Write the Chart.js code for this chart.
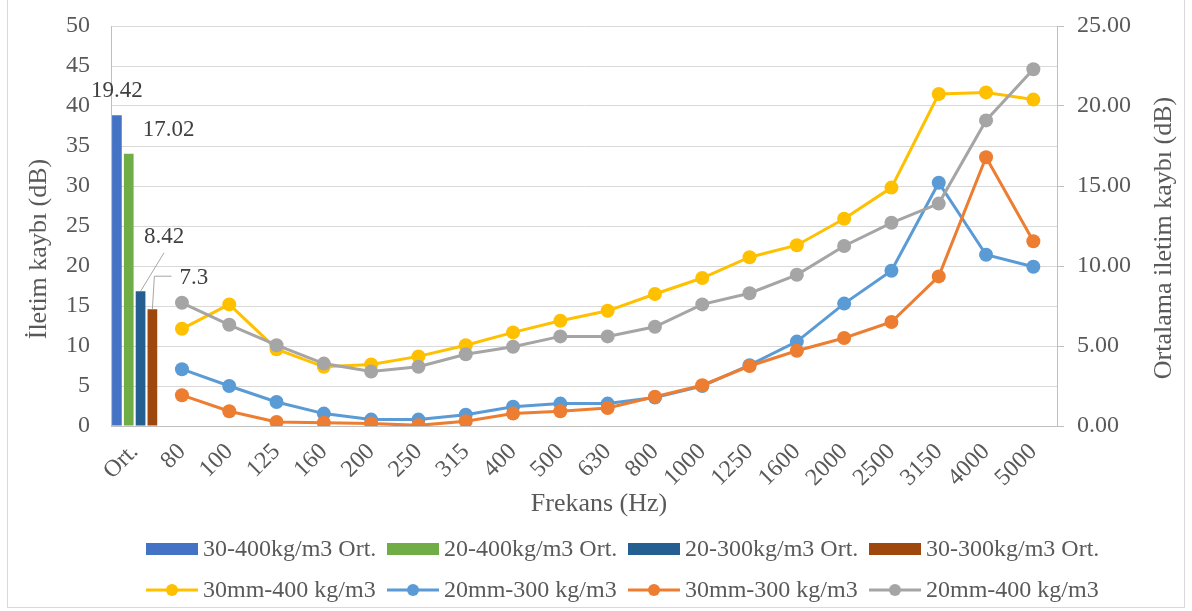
<!DOCTYPE html>
<html>
<head>
<meta charset="utf-8">
<title>İletim kaybı</title>
<script src="https://cdn.jsdelivr.net/npm/chart.js@4.4.0/dist/chart.umd.min.js"></script>
<style>
  html, body { margin: 0; padding: 0; background: #ffffff; }
  #wrap { position: relative; width: 1192px; height: 611px; }
  canvas { display: block; }
</style>
</head>
<body>
<div id="wrap"><canvas id="chart" width="1192" height="611"></canvas></div>
<script>
// Frequency bands (first slot holds the averages)
const categories = ['Ort.', '80', '100', '125', '160', '200', '250', '315', '400', '500', '630',
  '800', '1000', '1250', '1600', '2000', '2500', '3150', '4000', '5000'];

// Average transmission loss per panel (right axis)
const avgNames = ['30-400kg/m3 Ort.', '20-400kg/m3 Ort.', '20-300kg/m3 Ort.', '30-300kg/m3 Ort.'];
const avgValues = [19.42, 17.02, 8.42, 7.3];

// Transmission loss per band (left axis)
const lineNames = ['30mm-400 kg/m3', '20mm-300 kg/m3', '30mm-300 kg/m3', '20mm-400 kg/m3'];
const tl30mm400 = [null, 12.15, 15.2, 9.6, 7.4, 7.7, 8.7, 10.1, 11.7, 13.15, 14.4, 16.5, 18.5, 21.1, 22.6, 25.9, 29.8, 41.5, 41.7, 40.8];
const tl20mm300 = [null, 7.1, 5.0, 3.0, 1.55, 0.8, 0.8, 1.4, 2.4, 2.8, 2.8, 3.55, 5.0, 7.6, 10.55, 15.3, 19.4, 30.4, 21.4, 19.9];
const tl30mm300 = [null, 3.85, 1.85, 0.5, 0.42, 0.3, 0.08, 0.6, 1.55, 1.85, 2.25, 3.65, 5.1, 7.5, 9.4, 11.0, 13.0, 18.7, 33.6, 23.1];
const tl20mm400 = [null, 15.4, 12.65, 10.1, 7.8, 6.8, 7.4, 8.96, 9.9, 11.2, 11.2, 12.4, 15.2, 16.6, 18.9, 22.5, 25.4, 27.8, 38.2, 44.6];

// Axis ranges
const leftAxis = { min: 0, max: 50, step: 5 };
const rightAxis = { min: 0, max: 25, step: 5 };

// Styling
const barColors = ['#4472C4', '#70AD47', '#255E91', '#9E480E'];
const lineColors = ['#FFC000', '#5B9BD5', '#ED7D31', '#A5A5A5'];
const lineSeries = [tl30mm400, tl20mm300, tl30mm300, tl20mm400];
const drawOrder = [4, 3, 2, 1];           // grey on top, yellow underneath
const FONT = "'Liberation Serif', 'Times New Roman', serif";
const TEXT = '#595959';

// Where each average label sits relative to its bar top (px), and its leader style
const avgLabelPlacement = [
  { dx: 0,    dy: -24,   leader: null },
  { dx: 40,   dy: -23.5, leader: null },
  { dx: 23.5, dy: -54.5, leader: 'diag' },
  { dx: 41.5, dy: -31,   leader: 'elbow' }
];

const datasets = [];
avgValues.forEach((v, k) => {
  datasets.push({
    type: 'bar',
    label: avgNames[k],
    data: categories.map((c, i) => (i === 0 ? v : null)),
    backgroundColor: barColors[k],
    yAxisID: 'y1',
    order: 5,
    categoryPercentage: 1.0,
    barPercentage: 0.82
  });
});
lineSeries.forEach((s, k) => {
  datasets.push({
    type: 'line',
    label: lineNames[k],
    data: s,
    borderColor: lineColors[k],
    backgroundColor: lineColors[k],
    pointBackgroundColor: lineColors[k],
    pointBorderColor: lineColors[k],
    borderWidth: 3,
    pointRadius: 7,
    pointBorderWidth: 0,
    tension: 0,
    spanGaps: false,
    yAxisID: 'y',
    order: drawOrder[k]
  });
});

// Value labels on the average bars, with leader lines
const avgLabelsPlugin = {
  id: 'avgLabels',
  afterDatasetsDraw(chart) {
    const ctx = chart.ctx;
    ctx.save();
    ctx.font = '23px ' + FONT;
    ctx.fillStyle = '#404040';
    ctx.textAlign = 'center';
    ctx.textBaseline = 'middle';
    ctx.strokeStyle = '#A6A6A6';
    ctx.lineWidth = 1;
    for (let k = 0; k < avgValues.length; k++) {
      const bar = chart.getDatasetMeta(k).data[0];
      const p = avgLabelPlacement[k];
      const cx = bar.x + p.dx, cy = bar.y + p.dy;
      const text = String(avgValues[k]);
      const w = ctx.measureText(text).width;
      ctx.fillText(text, cx, cy);
      if (p.leader === 'diag') {
        ctx.beginPath();
        ctx.moveTo(bar.x, bar.y);
        ctx.lineTo(cx, cy + 16);
        ctx.stroke();
      } else if (p.leader === 'elbow') {
        ctx.beginPath();
        ctx.moveTo(bar.x, bar.y);
        ctx.lineTo(bar.x + 2, cy - 2);
        ctx.lineTo(cx - w / 2 - 8, cy - 2);
        ctx.stroke();
      }
    }
    ctx.restore();
  }
};

// Axis titles, legend and outer frame
const decorPlugin = {
  id: 'decor',
  afterDraw(chart) {
    const ctx = chart.ctx;
    const area = chart.chartArea;
    ctx.save();
    // frame
    ctx.strokeStyle = '#D9D9D9';
    ctx.lineWidth = 1;
    ctx.strokeRect(7.5, -1.5, 1177, 609);

    // axis titles
    ctx.fillStyle = TEXT;
    ctx.font = '26px ' + FONT;
    ctx.textAlign = 'center';
    ctx.textBaseline = 'middle';
    ctx.fillText('Frekans (Hz)', (area.left + area.right) / 2 + 15, 504);

    ctx.save();
    ctx.translate(39, 249);
    ctx.rotate(-Math.PI / 2);
    ctx.fillText('İletim kaybı (dB)', 0, 0);
    ctx.restore();

    ctx.save();
    ctx.translate(1164, 238);
    ctx.rotate(-Math.PI / 2);
    ctx.fillText('Ortalama iletim kaybı (dB)', 0, 0);
    ctx.restore();

    // legend: bars on the first row, lines on the second
    const startX = 146, pitch = 241, rowY = [549, 590], boxW = 52, textGap = 57;
    ctx.font = '24px ' + FONT;
    ctx.textAlign = 'left';
    chart.data.datasets.forEach((ds, i) => {
      const row = i < 4 ? 0 : 1;
      const col = i % 4;
      const x = startX + col * pitch;
      const y = rowY[row];
      if (ds.type === 'bar') {
        ctx.fillStyle = ds.backgroundColor;
        ctx.fillRect(x, y - 6, boxW, 12);
      } else {
        ctx.strokeStyle = ds.borderColor;
        ctx.lineWidth = 3;
        ctx.beginPath();
        ctx.moveTo(x, y);
        ctx.lineTo(x + boxW, y);
        ctx.stroke();
        ctx.fillStyle = ds.borderColor;
        ctx.beginPath();
        ctx.arc(x + boxW / 2, y, 6, 0, Math.PI * 2);
        ctx.fill();
      }
      ctx.fillStyle = TEXT;
      ctx.fillText(ds.label, x + textGap, y + 1);
    });
    ctx.restore();
  }
};

// Keep the plot box fixed: no extra room reserved for end labels
function trimVerticalPadding(scale) {
  scale.paddingTop = 0;
  scale.paddingBottom = 0;
}

new Chart(document.getElementById('chart'), {
  data: { labels: categories, datasets },
  options: {
    responsive: false,
    animation: false,
    devicePixelRatio: 1,
    layout: { padding: { top: 26, left: 0, right: 0, bottom: 0 } },
    plugins: { legend: { display: false }, tooltip: { enabled: false } },
    scales: {
      x: {
        type: 'category',
        offset: true,
        grid: { display: false },
        border: { display: true, color: '#BFBFBF', width: 1 },
        ticks: {
          color: TEXT,
          font: { family: FONT, size: 24 },
          minRotation: 45,
          maxRotation: 45,
          autoSkip: false,
          padding: 4
        },
        afterFit(scale) { scale.height = 185; }
      },
      y: {
        position: 'left',
        min: leftAxis.min,
        max: leftAxis.max,
        grid: { color: '#D9D9D9', drawTicks: false, lineWidth: 1 },
        border: { display: true, color: '#BFBFBF', width: 1 },
        ticks: {
          stepSize: leftAxis.step,
          color: TEXT,
          font: { family: FONT, size: 24 },
          padding: 21
        },
        afterFit(scale) { scale.width = 111; trimVerticalPadding(scale); }
      },
      y1: {
        position: 'right',
        min: rightAxis.min,
        max: rightAxis.max,
        grid: { drawOnChartArea: false, drawTicks: true, tickLength: 7, color: '#BFBFBF' },
        border: { display: true, color: '#BFBFBF', width: 1 },
        ticks: {
          stepSize: rightAxis.step,
          color: TEXT,
          font: { family: FONT, size: 24 },
          padding: 13,
          callback: (v) => Number(v).toFixed(2)
        },
        afterFit(scale) { scale.width = 135; trimVerticalPadding(scale); }
      }
    }
  },
  plugins: [avgLabelsPlugin, decorPlugin]
});
</script>
</body>
</html>
